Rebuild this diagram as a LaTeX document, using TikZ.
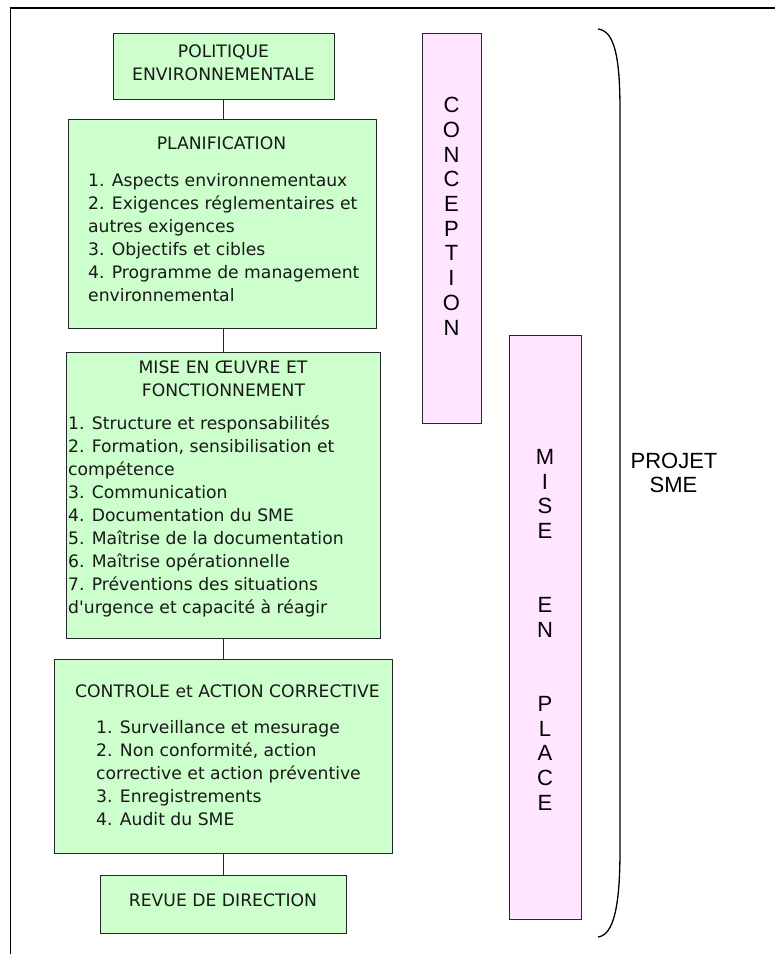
\documentclass[tikz,border=0pt]{standalone}
\usepackage{fontspec}
\setmainfont{DejaVu Sans}
\newfontfamily\arialf{Liberation Sans}
\definecolor{gfill}{HTML}{CCFFCC}
\definecolor{pfill}{HTML}{FFE5FF}
\begin{document}
\begin{tikzpicture}[x=1pt,y=-1pt,
  box/.style={draw=black!85, line width=1pt, inner sep=0pt, outer sep=0pt, anchor=north west},
  gbox/.style={box, fill=gfill},
  pbox/.style={box, fill=pfill},
  gtxt/.style={inner sep=0pt, font=\fontsize{17.2}{23}\selectfont, text=black!90},
  ptxt/.style={inner sep=0pt, font=\arialf\fontsize{22}{24.7}\selectfont},
  link/.style={draw=black!85, line width=1pt}]
\useasboundingbox (0,0) rectangle (775,954);
% frame
\draw[line width=2pt] (775,8) -- (10.5,8);
\draw[line width=1.5pt] (10.5,7) -- (10.5,954);
% green boxes
\node[gbox, minimum width=221pt, minimum height=66pt] (pol) at (113,33) {};
\node[gbox, minimum width=308pt, minimum height=209pt] (plan) at (68,119) {};
\node[gbox, minimum width=314pt, minimum height=286pt] (mise) at (66,352) {};
\node[gbox, minimum width=338pt, minimum height=194pt] (ctrl) at (54,659) {};
\node[gbox, minimum width=246pt, minimum height=58pt] (rev) at (100,875) {};
% pink boxes
\node[pbox, minimum width=59pt, minimum height=390pt] (conc) at (422,33) {};
\node[pbox, minimum width=72pt, minimum height=584pt] (mep) at (509,335) {};
% connectors
\draw[link] (pol.south) -- (pol.south |- plan.north);
\draw[link] (plan.south -| pol.south) -- (mise.north -| pol.south);
\draw[link] (mise.south -| pol.south) -- (ctrl.north -| pol.south);
\draw[link] (ctrl.south -| pol.south) -- (rev.north -| pol.south);
% texts of green boxes
\node[gtxt, anchor=base] (polt1) at (223.5,57.7) {POLITIQUE};
\node[gtxt, anchor=base] (polt2) at (223.5,80.3) {ENVIRONNEMENTALE};
\node[gtxt, anchor=base] (plant) at (221.5,149) {PLANIFICATION};
\foreach \t [count=\i from 0] in {{1. Aspects environnementaux},{2. Exigences réglementaires et},{autres exigences},{3. Objectifs et cibles},{4. Programme de management},{environnemental}}
  \node[gtxt, anchor=base west] (plani\i) at (88,{186+23*\i}) {\t};
\node[gtxt, anchor=base] (miset1) at (223,373.3) {MISE EN ŒUVRE ET};
\node[gtxt, anchor=base] (miset2) at (223.5,396) {FONCTIONNEMENT};
\foreach \t [count=\i from 0] in {{1. Structure et responsabilités},{2. Formation, sensibilisation et},{compétence},{3. Communication},{4. Documentation du SME},{5. Maîtrise de la documentation},{6. Maîtrise opérationnelle},{7. Préventions des situations},{d\textquotesingle urgence et capacité à réagir}}
  \node[gtxt, anchor=base west] (misei\i) at (68,{429+23*\i}) {\t};
\node[gtxt, anchor=base west] (ctrlt) at (75,697) {CONTROLE et ACTION CORRECTIVE};
\foreach \t [count=\i from 0] in {{1. Surveillance et mesurage},{2. Non conformité, action},{corrective et action préventive},{3. Enregistrements},{4. Audit du SME}}
  \node[gtxt, anchor=base west] (ctrli\i) at (96,{733+23*\i}) {\t};
\node[gtxt, anchor=base] (revt) at (223,906) {REVUE DE DIRECTION};
% pink texts
\foreach \l [count=\i from 0] in {C,O,N,C,E,P,T,I,O,N}
  \node[ptxt, anchor=base] (c\i) at (451.5,{112.7+24.7*\i}) {\l};
\foreach \l/\k in {M/0,I/1,S/2,E/3,E/6,N/7,P/10,L/11,A/12,C/13,E/14}
  \node[ptxt, anchor=base] (m\k) at (545,{464.3+24.7*\k}) {\l};
% brace and label
\draw[line width=1.3pt] (598,29) .. controls (614,31) and (620,55) .. (620,110) -- (620,850) .. controls (620,905) and (614,935) .. (598,937);
\node[ptxt, anchor=base] (proj1) at (674,468.3) {PROJET};
\node[ptxt, anchor=base] (proj2) at (673.5,492.7) {SME};
\end{tikzpicture}
\end{document}
